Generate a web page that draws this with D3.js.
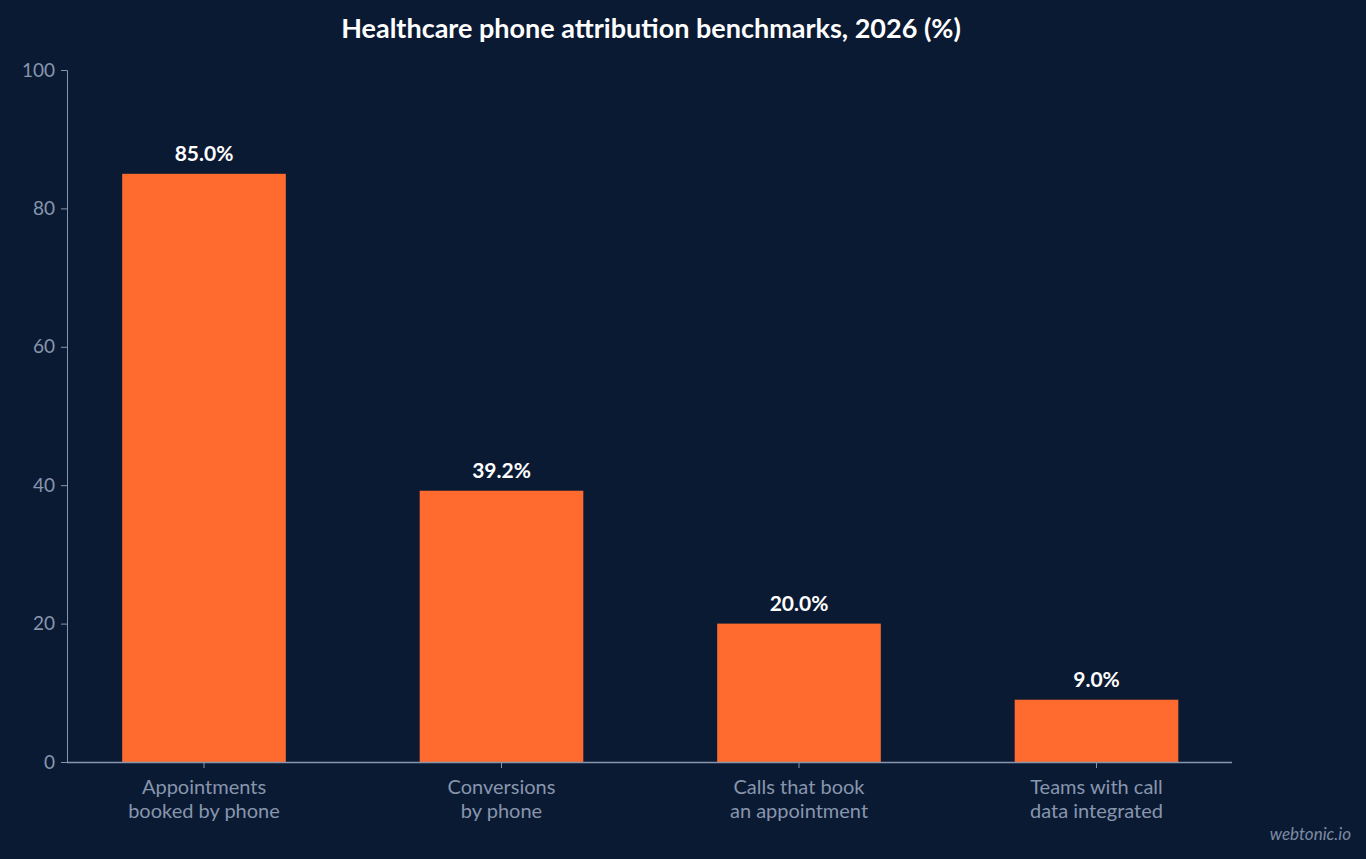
<!DOCTYPE html>
<html><head><meta charset="utf-8">
<script src="https://cdn.jsdelivr.net/npm/d3@7"></script>
<style>body{margin:0;background:#0b1a33;}svg{display:block;font-family:Lato,sans-serif;}</style>
</head><body><svg id="c" width="1366" height="859"></svg>
<script>
const categories=[["Appointments","booked by phone"],["Conversions","by phone"],["Calls that book","an appointment"],["Teams with call","data integrated"]];
const values=[85.0,39.2,20.0,9.0];
const yTicks=[0,20,40,60,80,100];
const svg=d3.select("#c");
svg.append("rect").attr("width",1366).attr("height",859).attr("fill","#0b1a33");
const x=d3.scaleBand().domain(d3.range(categories.length)).range([55.25,1245.25]).paddingInner(0.45).paddingOuter(0.225);
const y=d3.scaleLinear().domain([0,100]).range([762,70]);
const axisCol="#8796ad";
svg.append("text").attr("x",651).attr("y",38).attr("text-anchor","middle").attr("fill","#fff").attr("font-weight","bold").attr("font-size",27).text("Healthcare phone attribution benchmarks, 2026 (%)");
const ya=svg.append("g").attr("transform","translate(67,0)").call(d3.axisLeft(y).tickValues(yTicks).tickSize(6).tickPadding(6));
ya.select(".domain").attr("stroke",axisCol);
ya.selectAll(".tick line").attr("stroke",axisCol);
ya.selectAll(".tick text").attr("fill",axisCol).attr("font-size",19).attr("font-family","Lato");
svg.selectAll(".bar").data(values).enter().append("rect").attr("x",(d,i)=>x(i)).attr("width",x.bandwidth()).attr("y",d=>y(d)).attr("height",d=>y(0)-y(d)).attr("fill","#ff6b2f");
svg.selectAll(".val").data(values).enter().append("text").attr("x",(d,i)=>x(i)+x.bandwidth()/2).attr("y",d=>y(d)-13).attr("text-anchor","middle").attr("fill","#fff").attr("font-weight","bold").attr("font-size",21).text(d=>d.toFixed(1)+"%");
svg.append("line").attr("x1",67).attr("x2",1232).attr("y1",762.5).attr("y2",762.5).attr("stroke",axisCol).attr("stroke-width",1.5);
categories.forEach((c,i)=>{
  const cx=x(i)+x.bandwidth()/2;
  svg.append("line").attr("x1",cx).attr("x2",cx).attr("y1",762).attr("y2",768).attr("stroke",axisCol);
  c.forEach((t,j)=>svg.append("text").attr("x",cx).attr("y",794+j*24).attr("text-anchor","middle").attr("fill",axisCol).attr("font-size",20).text(t));
});
svg.append("text").attr("x",1351).attr("y",840).attr("text-anchor","end").attr("fill","#7d8ba3").attr("font-style","italic").attr("font-size",17).text("webtonic.io");
</script></body></html>
